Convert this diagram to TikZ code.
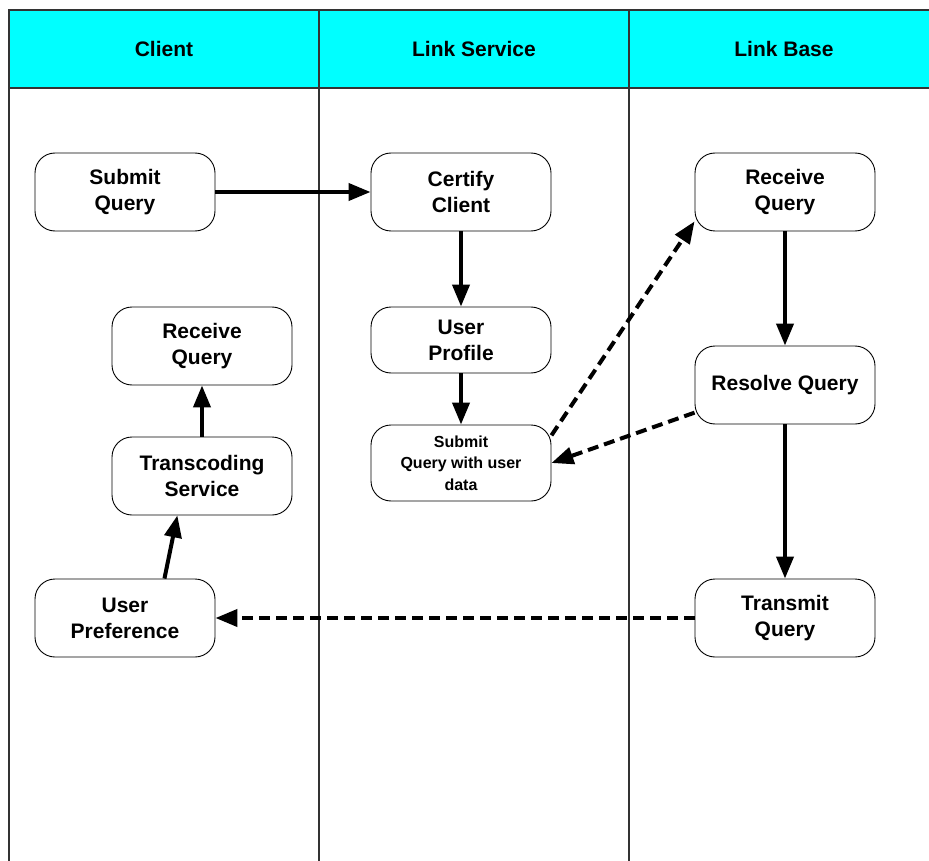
\documentclass[tikz,border=0pt]{standalone}
\usepackage{fontspec}
\setmainfont{Liberation Sans}
\usetikzlibrary{arrows.meta}
\definecolor{lanecyan}{HTML}{00FFFF}
\definecolor{laneline}{HTML}{333333}
\begin{document}
\begin{tikzpicture}[x=1pt,y=-1pt,
  lane/.style={draw=laneline,line width=1.3pt},
  task/.style={draw=black,line width=0.9pt,rounded corners=20pt,
    minimum width=180pt,minimum height=78pt,align=center,
    font=\bfseries\fontsize{21}{26}\selectfont},
  smalltask/.style={task,font=\bfseries\fontsize{16}{21.5}\selectfont},
  flow/.style={line width=4pt,-{Triangle[length=22pt,width=17pt]}},
  msg/.style={flow,dash pattern=on 11pt off 6pt}]
\useasboundingbox (0,0) rectangle (929,861);
% header band with lane titles
\fill[lanecyan] (9,10) rectangle (929,88);
\draw[lane] (929,10) -- (9,10) -- (9,861);
\draw[lane] (9,88) -- (929,88);
\draw[lane] (319,10) -- (319,861);
\draw[lane] (629,10) -- (629,861);
\node[font=\bfseries\fontsize{21}{26}\selectfont] (hc) at (164,49) {Client};
\node[font=\bfseries\fontsize{21}{26}\selectfont] (hs) at (474,49) {Link Service};
\node[font=\bfseries\fontsize{21}{26}\selectfont] (hb) at (784,49) {Link Base};
% Client lane
\node[task] (sq) at (125,192) {Submit\\Query};
\node[task] (rq1) at (202,346) {Receive\\Query};
\node[task] (ts) at (202,476) {Transcoding\\Service};
\node[task] (up) at (125,618) {User\\Preference};
% Link Service lane
\node[task] (cc) at (461,192) {Certify\\Client};
\node[task,minimum height=66pt] (pr) at (461,340) {User\\Profile};
\node[smalltask,minimum height=76pt] (sd) at (461,463) {Submit\\Query with user\\data};
% Link Base lane
\node[task] (rq2) at (785,192) {Receive\\Query};
\node[task] (rs) at (785,385) {Resolve Query};
\node[task] (tq) at (785,618) {Transmit\\Query};
% connectors
\draw[flow] (sq) -- (cc);
\draw[flow] (cc) -- (pr);
\draw[flow] (pr) -- (sd);
\draw[msg] (sd.17) -- (rq2.198);
\draw[flow] (rq2) -- (rs);
\draw[msg] (rs.197) -- (sd.east);
\draw[flow] (rs) -- (tq);
\draw[msg] (tq) -- (up);
\draw[flow] (up.45) -- (ts.238);
\draw[flow] (ts) -- (rq1);
\end{tikzpicture}
\end{document}
